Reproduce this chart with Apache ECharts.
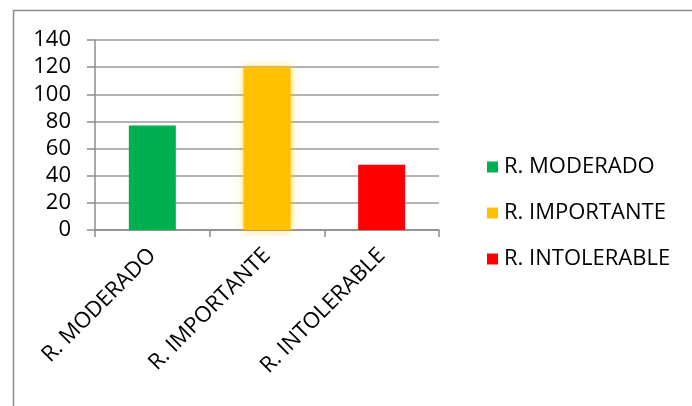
<!DOCTYPE html>
<html>
<head>
<meta charset="utf-8">
<script src="https://cdn.jsdelivr.net/npm/echarts@6/dist/echarts.min.js"></script>
<style>
html,body{margin:0;padding:0;background:#fff;}
#c{width:692px;height:406px;}
</style>
</head>
<body>
<div id="c"></div>
<script>
const categories = ['R. MODERADO', 'R. IMPORTANTE', 'R. INTOLERABLE'];
const values = [77, 120, 48];
const colors = ['#00B050', '#FFC000', '#FF0000'];
const yTicks = [0, 20, 40, 60, 80, 100, 120, 140];

const FONT = 'Open Sans';
const FS = 22;
const chart = echarts.init(document.getElementById('c'));

const series = categories.map((name, i) => ({
  name: name,
  type: 'bar',
  stack: 'all',
  barWidth: 47,
  data: categories.map((c, j) => (j === i ? values[i] : null)),
  itemStyle: Object.assign({ color: colors[i] },
    i === 1 ? { shadowBlur: 8, shadowColor: 'rgba(255,192,0,0.7)' } : {}),
  emphasis: { disabled: true }
}));

chart.setOption({
  animation: false,
  graphic: [{
    type: 'rect',
    shape: { x: 13.5, y: 10.5, width: 900, height: 600 },
    style: { fill: 'none', stroke: '#8c8c8c', lineWidth: 1.5 },
    silent: true
  }],
  grid: { left: 95, right: 253, top: 40, bottom: 176, containLabel: false },
  legend: {
    orient: 'vertical',
    left: 482,
    top: 151,
    itemWidth: 11,
    itemHeight: 11,
    itemGap: 24,
    icon: 'rect',
    textStyle: { fontFamily: FONT, fontSize: FS, color: '#000', padding: [0, 0, 0, 1] },
    data: categories
  },
  xAxis: {
    type: 'category',
    data: categories,
    axisLine: { lineStyle: { color: '#8c8c8c', width: 1.5 } },
    axisTick: { show: true, length: 7, lineStyle: { color: '#8c8c8c', width: 1.5 } },
    axisLabel: { rotate: 45, fontFamily: FONT, fontSize: FS, color: '#000', margin: 22 }
  },
  yAxis: {
    type: 'value',
    min: 0,
    max: 140,
    interval: 20,
    axisLine: { show: true, lineStyle: { color: '#8c8c8c', width: 1.5 } },
    axisTick: { show: true, length: 8, lineStyle: { color: '#8c8c8c', width: 1.5 } },
    axisLabel: {
      fontFamily: FONT, fontSize: FS, color: '#000', margin: 24,
      formatter: v => (yTicks.indexOf(v) >= 0 ? String(v) : '')
    },
    splitLine: { lineStyle: { color: '#9a9a9a', width: 1.5 } }
  },
  series: series
});
</script>
</body>
</html>
